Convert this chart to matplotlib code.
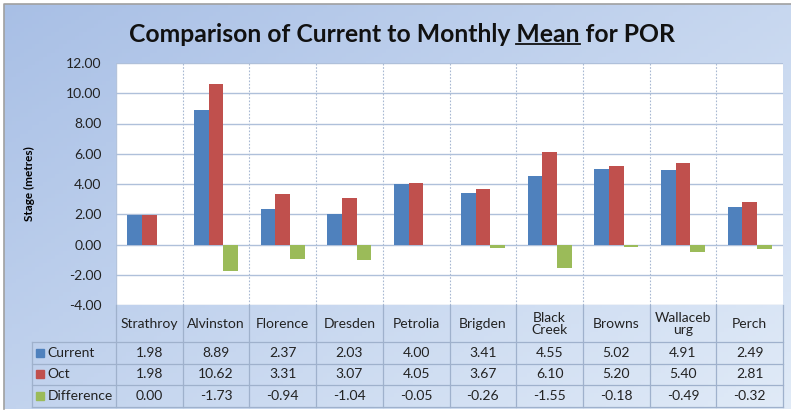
import numpy as np
import matplotlib.pyplot as plt
from matplotlib.transforms import blended_transform_factory

sites = ['Strathroy', 'Alvinston', 'Florence', 'Dresden', 'Petrolia',
         'Brigden', 'Black\nCreek', 'Browns', 'Wallaceb\nurg', 'Perch']
current = [1.98, 8.89, 2.37, 2.03, 4.00, 3.41, 4.55, 5.02, 4.91, 2.49]
oct_mean = [1.98, 10.62, 3.31, 3.07, 4.05, 3.67, 6.10, 5.20, 5.40, 2.81]
difference = [0.00, -1.73, -0.94, -1.04, -0.05, -0.26, -1.55, -0.18, -0.49, -0.32]
series_names = ['Current', 'Oct', 'Difference']
colors = ['#4F81BD', '#C0504D', '#9BBB59']

plt.rcParams['font.family'] = ['Lato', 'DejaVu Sans']

W, H = 791, 413
fig = plt.figure(figsize=(W / 100, H / 100), dpi=100)
fig.patch.set_facecolor('white')

# gradient background
bg = fig.add_axes([4 / W, 4 / H, 787 / W, 405 / H])
gx, gy = np.meshgrid(np.linspace(0, 1, 200), np.linspace(0, 1, 100))
t = np.clip(0.55 * gx + 0.45 * gy, 0, 1)
c0 = np.array([0.66, 0.75, 0.90])
c1 = np.array([0.88, 0.92, 0.97])
img = c0[None, None, :] * (1 - t[..., None]) + c1[None, None, :] * t[..., None]
bg.imshow(img, aspect='auto', extent=[0, 1, 0, 1], origin='upper')
bg.set_xlim(0, 1)
bg.set_ylim(0, 1)
bg.axis('off')
fig.add_artist(plt.Line2D([4 / W, 4 / W, 1], [4 / H, 1 - 4 / H, 1 - 4 / H],
                          transform=fig.transFigure, color='#A0A0A0', lw=1.2))

ax = fig.add_axes([116 / W, (H - 305) / H, 667 / W, 242 / H])
ax.set_facecolor('white')
x = np.arange(len(sites))
w = 0.22
ax.bar(x - w, current, w, color=colors[0], zorder=3)
ax.bar(x, oct_mean, w, color=colors[1], zorder=3)
ax.bar(x + w, difference, w, color=colors[2], zorder=3)

ax.set_xlim(-0.5, len(sites) - 0.5)
ax.set_ylim(-4, 12)
ax.set_yticks(np.arange(-4, 13, 2))
ax.set_yticklabels(['%.2f' % v for v in np.arange(-4, 13, 2)], fontsize=10, color='#222222')
ax.set_xticks([])
ax.tick_params(axis='y', length=0, pad=10.5)
for s in ax.spines.values():
    s.set_visible(False)
ax.grid(axis='y', color='#AFC0DA', lw=1, zorder=1)
for b in np.arange(0.5, len(sites) - 0.5):
    ax.axvline(b, color='#A8B8D2', lw=0.8, ls=(0, (1.5, 1.5)), zorder=1)
ax.axvline(-0.5, color='#B4C4DC', lw=1, zorder=1)
ax.set_ylabel('Stage (metres)', fontsize=8.5, fontweight='bold', labelpad=22)

# data table under the axis
tr = blended_transform_factory(ax.transData, ax.transAxes)
lc = '#9FB1CC'
hb = -37 / 242
rh = 21.5 / 242
left = -0.5 - 84 / 66.7
rows = [current, oct_mean, difference]
bottom = hb - 3 * rh
for b in np.arange(-0.5, len(sites)):
    ax.plot([b, b], [0, bottom], transform=tr, color=lc, lw=0.9, clip_on=False)
ax.plot([left, left], [hb, bottom], transform=tr, color=lc, lw=0.9, clip_on=False)
for k in range(4):
    yk = hb - k * rh
    ax.plot([left, len(sites) - 0.5], [yk, yk], transform=tr, color=lc, lw=0.9, clip_on=False)
for i, name in enumerate(sites):
    ax.text(i, hb / 2, name, transform=tr, ha='center', va='center',
            fontsize=10, color='#222222', linespacing=1.0, clip_on=False)
    for r, vals in enumerate(rows):
        ax.text(i, hb - (r + 0.5) * rh, '%.2f' % vals[i], transform=tr,
                ha='center', va='center', fontsize=10, color='#222222', clip_on=False)
for r, name in enumerate(series_names):
    yc = hb - (r + 0.5) * rh
    ax.plot([left + 0.12], [yc], transform=tr, marker='s', ms=6, color=colors[r],
            clip_on=False, ls='none')
    ax.text(left + 0.23, yc, name, transform=tr, ha='left', va='center',
            fontsize=10, color='#222222', clip_on=False)

# title with underlined "Mean"
title = 'Comparison of Current to Monthly Mean for POR'
tfs = 17.8
tt = fig.text(402 / W, 1 - 35 / H, title, ha='center', va='center',
              fontsize=tfs, fontweight='bold', color='#111111')
fig.canvas.draw()
r = fig.canvas.get_renderer()
bb = tt.get_window_extent(r)
pre = fig.text(0, 0, 'Comparison of Current to Monthly ', fontsize=tfs, fontweight='bold')
mw = fig.text(0, 0, 'Mean', fontsize=tfs, fontweight='bold')
x0 = bb.x0 + pre.get_window_extent(r).width
x1 = x0 + mw.get_window_extent(r).width
pre.remove()
mw.remove()
uy = bb.y0 + 3
fig.add_artist(plt.Line2D([x0 / W, x1 / W], [uy / H, uy / H], transform=fig.transFigure,
                          color='#111111', lw=1.3))

fig.savefig('out.png', dpi=100)
